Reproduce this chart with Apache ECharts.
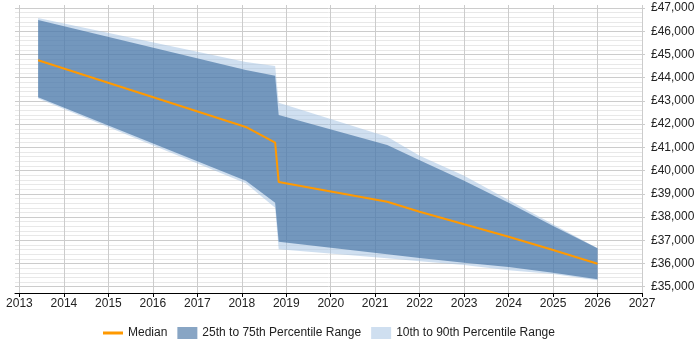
<!DOCTYPE html>
<html>
<head>
<meta charset="utf-8">
<script src="https://cdn.jsdelivr.net/npm/echarts@6/dist/echarts.min.js"></script>
<style>
  html, body { margin: 0; padding: 0; background: #fff; }
  #chart { width: 700px; height: 350px; }
</style>
</head>
<body>
<div id="chart"></div>
<script>
// 时间点（年份，带小数）
var years = [2013.42, 2018.09, 2018.75, 2018.83, 2021.27, 2022, 2023, 2024, 2025, 2026];
// 各分位数的数值
var p90 = [46572, 44677, 44505, 42924, 41460, 40642, 39780, 38734, 37687, 36660];
var p75 = [46486, 44330, 44087, 42394, 41102, 40448, 39565, 38618, 37614, 36654];
var median = [44750, 41878, 41201, 39509, 38661, 38230, 37687, 37153, 36580, 35990];
var p25 = [43157, 39565, 38618, 36938, 36395, 36242, 36034, 35846, 35601, 35319];
var p10 = [43100, 39453, 38402, 36611, 36223, 36101, 35935, 35714, 35543, 35280];

// 刻度标签
var yearTicks = [2013, 2014, 2015, 2016, 2017, 2018, 2019, 2020, 2021, 2022, 2023, 2024, 2025, 2026, 2027];
var salaryTicks = [35000, 36000, 37000, 38000, 39000, 40000, 41000, 42000, 43000, 44000, 45000, 46000, 47000];

var names = ['Median', '25th to 75th Percentile Range', '10th to 90th Percentile Range'];

// 次要网格线，每200一条（不含整千）
var minorTicks = [];
for (var v = 35200; v < 47000; v += 200) {
    if (v % 1000 != 0) minorTicks.push(v);
}

function pairs(vals) {
    var out = [];
    for (var i = 0; i < years.length; i++) out.push([years[i], vals[i]]);
    return out;
}
function rows(lo, hi) {
    var out = [];
    for (var i = 0; i < years.length; i++) out.push([years[i], lo[i], hi[i]]);
    return out;
}
function money(v) {
    return '£' + String(v).replace(/\B(?=(\d{3})+(?!\d))/g, ',');
}

// 画区间带：只在第一个数据项时画出整个多边形
function bandRenderer(lo, hi, color) {
    return function (params, api) {
        if (params.dataIndex !== 0) return;
        var pts = [];
        for (var i = 0; i < years.length; i++) pts.push(api.coord([years[i], hi[i]]));
        for (var j = years.length - 1; j >= 0; j--) pts.push(api.coord([years[j], lo[j]]));
        return {
            type: 'polygon',
            shape: { points: pts },
            style: { fill: color }
        };
    };
}

var lightBand = 'rgba(160,192,225,0.5)';
var darkBand = 'rgba(45,97,152,0.57)';
var font = 'Liberation Sans, Arial, sans-serif';

var myChart = echarts.init(document.getElementById('chart'));
var option = {
    animation: false,
    grid: { left: 15, right: 58, top: 5, bottom: 57, containLabel: false },
    legend: {
        left: 98,
        top: 322,
        itemWidth: 20,
        itemHeight: 12,
        itemGap: 10,
        textStyle: { fontFamily: font, fontSize: 12, color: '#222' },
        data: [
            { name: names[0], icon: 'path://M0,0L20,0L20,3L0,3Z', itemStyle: { color: '#ff9900' } },
            { name: names[1], icon: 'rect', itemStyle: { color: darkBand } },
            { name: names[2], icon: 'rect', itemStyle: { color: lightBand } }
        ]
    },
    xAxis: {
        type: 'value',
        min: 2012.9,
        max: 2027,
        axisLine: { show: true, lineStyle: { color: '#000', width: 1 } },
        axisTick: { show: true, length: 4, customValues: yearTicks, lineStyle: { color: '#000' } },
        axisLabel: {
            customValues: yearTicks,
            margin: 5,
            fontFamily: font,
            fontSize: 12,
            color: '#222',
            formatter: function (v) { return String(v); }
        },
        splitLine: { show: true, lineStyle: { color: '#ccc' } }
    },
    yAxis: [
        {
            // 次要网格
            type: 'value',
            position: 'right',
            min: 34730,
            max: 47130,
            axisLine: { show: false },
            axisTick: { show: false, customValues: minorTicks },
            axisLabel: { show: false },
            splitLine: { show: true, lineStyle: { color: '#e8e8e8' } }
        },
        {
            type: 'value',
            position: 'right',
            min: 34730,
            max: 47130,
            axisLine: { show: false },
            axisTick: { show: true, length: 3, customValues: salaryTicks, lineStyle: { color: '#ccc' } },
            axisLabel: {
                customValues: salaryTicks,
                margin: 9,
                fontFamily: font,
                fontSize: 12,
                color: '#222',
                formatter: money
            },
            splitLine: { show: true, lineStyle: { color: '#ccc' } }
        }
    ],
    series: [
        {
            name: names[2], type: 'custom', yAxisIndex: 1,
            data: rows(p10, p90),
            encode: { x: 0, y: [1, 2] },
            itemStyle: { color: lightBand },
            renderItem: bandRenderer(p10, p90, lightBand),
            silent: true
        },
        {
            name: names[1], type: 'custom', yAxisIndex: 1,
            data: rows(p25, p75),
            encode: { x: 0, y: [1, 2] },
            itemStyle: { color: darkBand },
            renderItem: bandRenderer(p25, p75, darkBand),
            silent: true
        },
        {
            name: names[0], type: 'line', yAxisIndex: 1,
            data: pairs(median), symbol: 'none',
            lineStyle: { color: '#ff9900', width: 2 },
            itemStyle: { color: '#ff9900' },
            z: 5
        }
    ]
};
myChart.setOption(option);
</script>
</body>
</html>
